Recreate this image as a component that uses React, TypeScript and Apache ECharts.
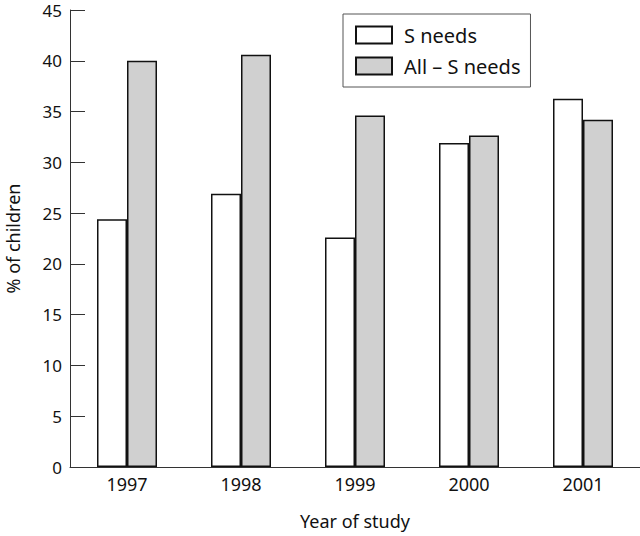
import React, { useEffect, useRef } from "react";
import * as echarts from "echarts";

const years = ["1997", "1998", "1999", "2000", "2001"];
const sNeeds = [24.4, 26.9, 22.6, 31.9, 36.25];
const allMinusS = [40.0, 40.6, 34.6, 32.65, 34.2];
const seriesNames = ["S needs", "All \u2013 S needs"];

const FONT = "Noto Sans";

export default function App() {
  const ref = useRef<HTMLDivElement>(null);
  useEffect(() => {
    if (!ref.current) return;
    const chart = echarts.init(ref.current, undefined, { renderer: "svg" });
    chart.setOption({
      animation: false,
      backgroundColor: "#ffffff",
      textStyle: { fontFamily: FONT, color: "#111" },
      grid: {
        left: 70,
        right: 0,
        top: 10,
        bottom: 69,
        containLabel: false,
        outerBoundsMode: "none",
      },
      legend: {
        orient: "vertical",
        left: 343,
        top: 14,
        padding: [11, 10, 11, 12],
        itemGap: 11,
        itemWidth: 36,
        itemHeight: 17,
        borderColor: "#555",
        borderWidth: 1,
        icon: "rect",
        textStyle: { fontFamily: FONT, fontSize: 20, color: "#111", padding: [0, 0, 0, 7] },
        data: seriesNames,
      },
      xAxis: {
        type: "category",
        data: years,
        name: "Year of study",
        nameLocation: "middle",
        nameGap: 45,
        nameTextStyle: { fontFamily: FONT, fontSize: 18, color: "#111" },
        axisLine: { lineStyle: { color: "#333", width: 1 } },
        axisTick: { inside: true, length: 15, lineStyle: { color: "#333" } },
        axisLabel: { fontFamily: FONT, fontSize: 18, color: "#111", margin: 8 },
      },
      yAxis: {
        type: "value",
        min: 0,
        max: 45,
        interval: 5,
        name: "% of children",
        nameLocation: "middle",
        nameGap: 48,
        nameTextStyle: { fontFamily: FONT, fontSize: 18, color: "#111" },
        axisLine: { show: true, lineStyle: { color: "#333", width: 1 } },
        axisTick: { show: true, inside: true, length: 15, lineStyle: { color: "#333" } },
        axisLabel: { fontFamily: FONT, fontSize: 17, lineHeight: 16, color: "#111", margin: 8 },
        splitLine: { show: false },
      },
      series: [
        {
          name: seriesNames[0],
          type: "bar",
          data: sNeeds,
          barWidth: 30,
          barGap: "0%",
          itemStyle: { color: "#ffffff", borderColor: "#111", borderWidth: 1.5 },
        },
        {
          name: seriesNames[1],
          type: "bar",
          data: allMinusS,
          barWidth: 30,
          barGap: "0%",
          itemStyle: { color: "#d0d0d0", borderColor: "#111", borderWidth: 1.5 },
        },
      ],
    });
    return () => chart.dispose();
  }, []);
  return (
    <div
      ref={ref}
      style={{ position: "absolute", left: 0, top: 0, width: 640, height: 536 }}
    />
  );
}
